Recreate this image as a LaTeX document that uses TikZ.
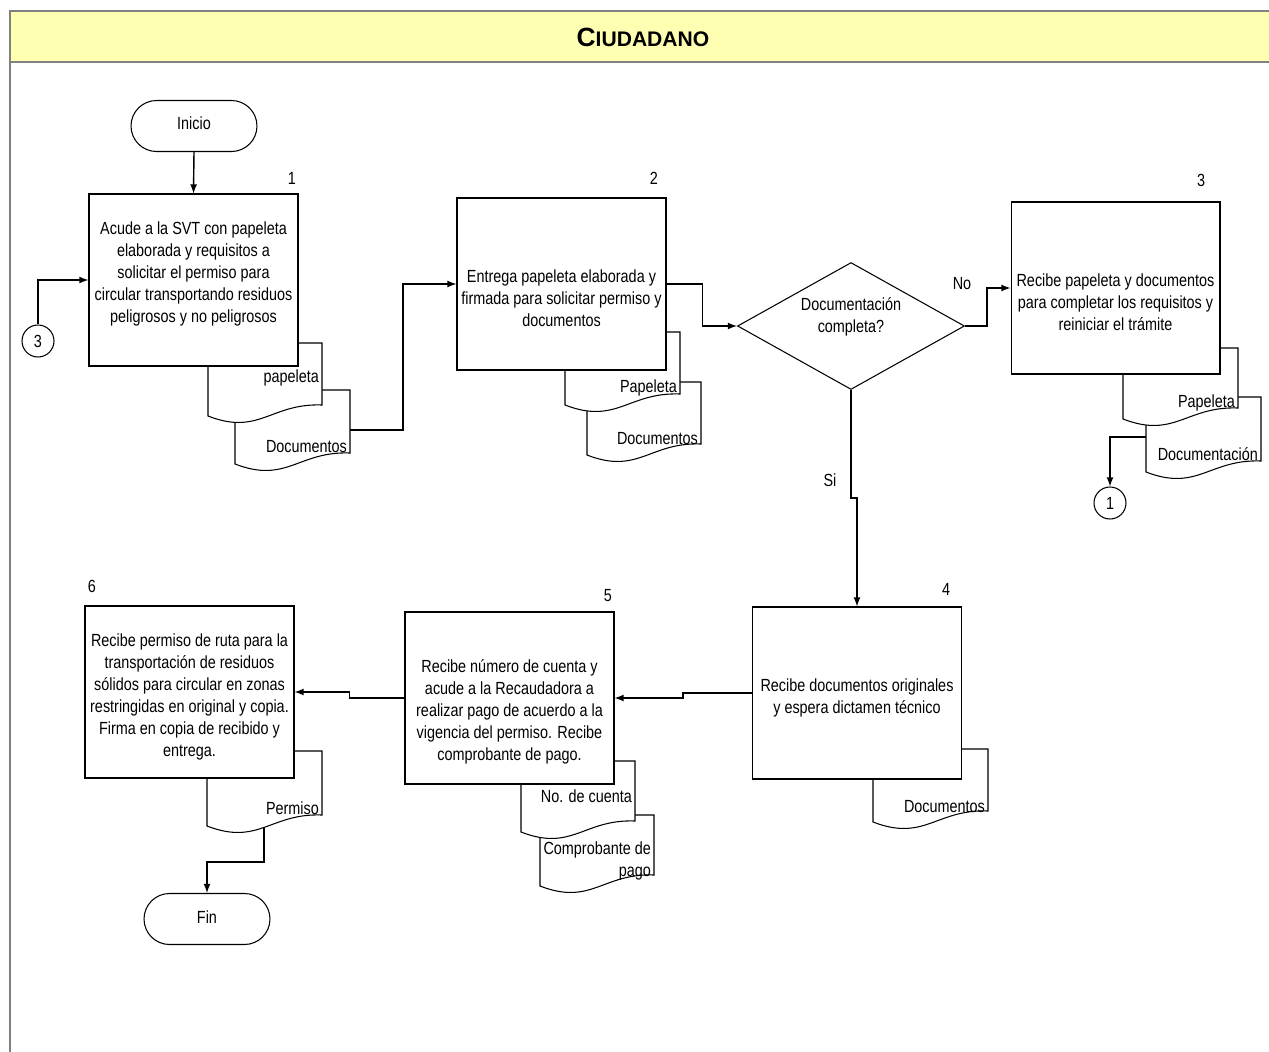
\documentclass[tikz,border=0pt]{standalone}
\usepackage{fontspec}
\setmainfont{Liberation Sans}[FakeStretch=0.82]
\newfontfamily\titulofont{Liberation Sans}
\usetikzlibrary{shapes.geometric}
\definecolor{amarillo}{RGB}{255,255,178}
\definecolor{gris}{RGB}{128,128,128}
% documento: izquierda, arriba, derecha, abajo, y etiqueta, nombre, texto
\newcommand{\documento}[7]{%
  \filldraw[documento] (#1,#2) -- (#3,#2) -- (#3,{#4-11})
    .. controls ({#3-0.45*(#3-#1)},{#4-13}) and ({#1+0.45*(#3-#1)},{#4+20}) .. (#1,#4) -- cycle;
  \node[etiqueta, anchor=east] (#6) at ({#3-1},#5) {#7};}

\begin{document}
\begin{tikzpicture}[x=0.02cm, y=-0.02cm]

      \tikzset{proceso/.style={draw, fill=white, line width=0.6pt, minimum width=4.18cm, minimum height=3.44cm, inner sep=1pt},
               texto/.style={align=center, inner sep=1pt, font=\fontsize{10}{12.5}\selectfont},
               terminal/.style={draw, fill=white, line width=0.6pt, rounded corners=0.51cm, minimum width=2.52cm, minimum height=1.02cm, font=\fontsize{10}{12.5}\selectfont},
               decision/.style={draw, fill=white, diamond, aspect=1.79, line width=0.6pt, minimum width=4.54cm, minimum height=2.54cm, inner sep=0pt},
               conector/.style={draw, circle, line width=0.6pt, minimum size=0.64cm, inner sep=0pt, font=\fontsize{10}{12.5}\selectfont},
               documento/.style={fill=white, draw=black, line width=0.6pt},
               etiqueta/.style={inner sep=1pt, align=right, font=\fontsize{10}{12.5}\selectfont},
               numero/.style={font=\fontsize{10}{12.5}\selectfont},
               flecha/.style={->, >=latex, line width=0.8pt}}
      \useasboundingbox (0,0) rectangle (1269,1052);
%% Carril
      \filldraw[fill=amarillo, draw=gris, line width=1.2pt] (1280,11) -- (10,11) -- (10,62) -- (1280,62);
      \draw[gris, line width=1.2pt] (10,62) -- (10,1060);
      \node[font=\titulofont\bfseries\fontsize{15}{18}\selectfont] (titulo) at (643,37) {C{\fontsize{12}{14}\selectfont IUDADANO}};
%% Documentos
      \documento{235}{390}{350}{464}{447}{doc1b}{Documentos}
      \documento{208}{343}{322}{416}{378}{doc1a}{papeleta}
      \documento{587}{382}{701}{455}{439}{doc2b}{Documentos}
      \documento{565}{332}{680}{405}{388}{doc2a}{Papeleta}
      \documento{1146}{397}{1261}{472}{454}{doc3b}{Documentación}
      \documento{1123}{348}{1238}{419}{403}{doc3a}{Papeleta}
      \documento{873}{749}{988}{822}{807}{doc4}{Documentos}
      \documento{540}{815}{654}{886}{861}{doc5b}{Comprobante de\\pago}
      \documento{521}{761}{635}{832}{796}{doc5a}{No. de cuenta}
      \documento{207}{751}{322}{826}{808}{doc6}{Permiso}
      \coordinate (d1s) at (350,430);
      \coordinate (d3s) at (1146,437);
      \coordinate (d6s) at (264,827);
%% Nodos
      \node[terminal] (ini) at (194,126) {\raisebox{0.1cm}{Inicio}};
      \node[proceso, label={[texto, yshift=0.12cm]center:{Acude a la SVT con papeleta\\elaborada y requisitos a\\solicitar el permiso para\\circular transportando residuos\\peligrosos y no peligrosos}}] (b1) at (193.5,280) {};
      \node[proceso, label={[texto, yshift=-0.28cm]center:{Entrega papeleta elaborada y\\firmada para solicitar permiso y\\documentos}}] (b2) at (561.5,284) {};
      \node[decision, label={[texto, yshift=0.18cm]center:{Documentación\\completa?}}] (dec) at (851,326) {};
      \node[proceso, label={[texto, yshift=-0.28cm]center:{Recibe papeleta y documentos\\para completar los requisitos y\\reiniciar el trámite}}] (b3) at (1115.5,288) {};
      \node[proceso, label={[texto, yshift=-0.1cm]center:{Recibe documentos originales\\y espera dictamen técnico}}] (b4) at (857,693) {};
      \node[proceso, label={[texto, yshift=-0.28cm]center:{Recibe número de cuenta y\\acude a la Recaudadora a\\realizar pago de acuerdo a la\\vigencia del permiso. Recibe\\comprobante de pago.}}] (b5) at (509.5,698) {};
      \node[proceso, label={[texto, yshift=-0.1cm]center:{Recibe permiso de ruta para la\\transportación de residuos\\sólidos para circular en zonas\\restringidas en original y copia.\\Firma en copia de recibido y\\entrega.}}] (b6) at (189.5,692) {};
      \node[terminal] (fin) at (207,919) {\raisebox{0.06cm}{Fin}};
      \node[conector] (c3) at (38,341) {3};
      \node[conector] (c1) at (1110,503) {1};
%Numeros
      \node[numero] (n1) at (292,178) {1};
      \node[numero] (n2) at (654,178) {2};
      \node[numero] (n3) at (1201,180) {3};
      \node[numero] (n4) at (946,589) {4};
      \node[numero] (n5) at (608,596) {5};
      \node[numero] (n6) at (92,586) {6};
      \node[numero] (no) at (962,284) {No};
      \node[numero] (si) at (830,480) {Si};
%Flechas
      \draw[flecha] (ini.south) -- (b1.north);
      \draw[flecha] (c3.north) |- (b1.west);
      \draw[flecha] (d1s) -- ++(53,0) |- (b2.west);
      \draw[flecha] (b2.east) -- ++(36,0) |- (dec.west);
      \draw[flecha] (dec.east) -- ++(22,0) |- (b3.west);
      \draw[flecha] (d3s) -| (c1.north);
      \draw[flecha] (dec.south) -- ++(0,108) -| (b4.north);
      \draw[flecha] (b4.west) -- ++(-69,0) |- (b5.east);
      \draw[flecha] (b5.west) -- ++(-55,0) |- (b6.east);
      \draw[flecha] (d6s) -- ++(0,35) -| (fin.north);

\end{tikzpicture}
\end{document}
